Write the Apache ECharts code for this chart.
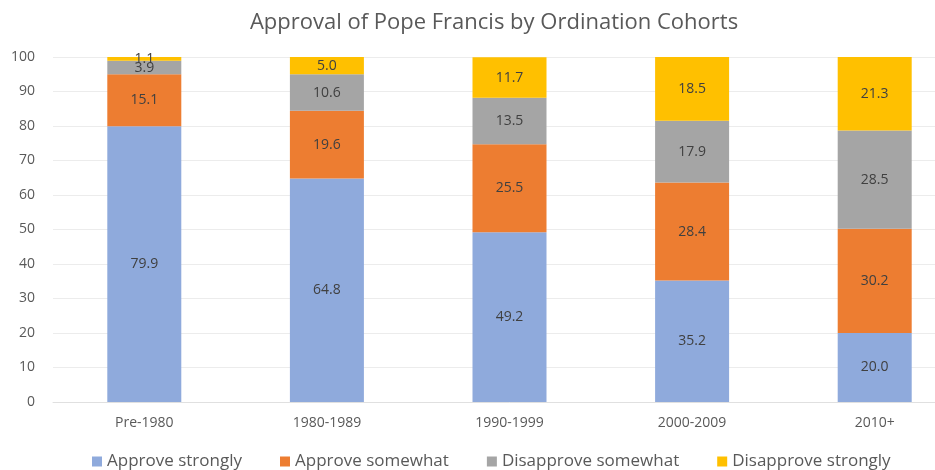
<!DOCTYPE html>
<html><head><meta charset="utf-8">
<script src="https://cdn.jsdelivr.net/npm/echarts@6/dist/echarts.min.js"></script>
<style>html,body{margin:0;padding:0;background:#fff;overflow:hidden}#c{width:970px;height:470px}</style>
</head><body><div id="c"></div>
<script>
const categories = ['Pre-1980', '1980-1989', '1990-1999', '2000-2009', '2010+'];
const approveStrongly = [79.9, 64.8, 49.2, 35.2, 20.0];
const approveSomewhat = [15.1, 19.6, 25.5, 28.4, 30.2];
const disapproveSomewhat = [3.9, 10.6, 13.5, 17.9, 28.5];
const disapproveStrongly = [1.1, 5.0, 11.7, 18.5, 21.3];
const seriesNames = ['Approve strongly', 'Approve somewhat', 'Disapprove somewhat', 'Disapprove strongly'];
const colors = ['#8faadc', '#ed7d31', '#a5a5a5', '#ffc000'];
const yTicks = [0, 10, 20, 30, 40, 50, 60, 70, 80, 90, 100];

const font = '"Open Sans", "Liberation Sans", sans-serif';
const data = [approveStrongly, approveSomewhat, disapproveSomewhat, disapproveStrongly];
const chart = echarts.init(document.getElementById('c'));
chart.setOption({
  animation: false,
  title: {
    text: 'Approval of Pope Francis by Ordination Cohorts',
    left: 489, top: 7, textAlign: 'center',
    textStyle: {fontFamily: font, fontSize: 22, fontWeight: 'normal', color: '#595959'}
  },
  legend: {
    data: seriesNames,
    left: 87, top: 448,
    itemWidth: 10, itemHeight: 10, itemGap: 38,
    icon: 'rect',
    textStyle: {fontFamily: font, fontSize: 17, color: '#595959'}
  },
  grid: {left: 53, top: 57, width: 913, height: 345},
  xAxis: {
    type: 'category', data: categories,
    axisLine: {lineStyle: {color: '#e0e0e0'}},
    axisTick: {show: false},
    axisLabel: {fontFamily: font, fontSize: 14, color: '#595959', margin: 14}
  },
  yAxis: {
    type: 'value', min: yTicks[0], max: yTicks[yTicks.length - 1], interval: 10,
    axisLine: {show: false}, axisTick: {show: false},
    splitLine: {lineStyle: {color: '#ececec'}},
    axisLabel: {fontFamily: font, fontSize: 14, color: '#595959', margin: 18}
  },
  series: data.map((d, i) => ({
    name: seriesNames[i], type: 'bar', stack: 'total', data: d,
    barWidth: 74,
    itemStyle: {color: colors[i]},
    label: {
      show: true, position: 'inside',
      formatter: p => p.value.toFixed(1),
      fontFamily: font, fontSize: 14, color: '#404040'
    }
  }))
});
</script></body></html>
